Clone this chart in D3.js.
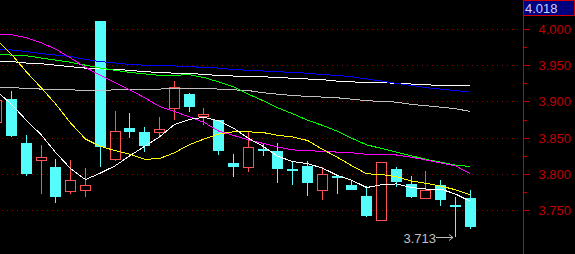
<!DOCTYPE html>
<html>
<head>
<meta charset="utf-8">
<title>K线</title>
<style>
body { margin: 0; background: #000; overflow: hidden; }
.grid line { stroke: #990000; stroke-width: 1; stroke-dasharray: 1,4; shape-rendering: crispEdges; }
.yaxis text { fill: #c00000; font-family: "Liberation Sans", Arial, sans-serif; font-size: 13px; }
.yaxis line { stroke: #c00000; shape-rendering: crispEdges; }
.ma { fill: none; stroke-width: 1; shape-rendering: crispEdges; }
</style>
</head>
<body>
<div id="chart"></div>
<script src="https://d3js.org/d3.v7.min.js"></script>
<script>
// 日K数据（第0根只露出一点）
var opens  = [3.870,3.903,3.843,3.818,3.809,3.775,3.776,4.011,3.819,3.863,3.858,3.856,3.890,3.910,3.878,3.874,3.815,
              3.808,3.834,3.831,3.807,3.811,3.776,3.797,3.785,3.769,3.735,3.807,3.786,3.765,3.785,3.757,3.767];
var highs  = [3.905,3.914,3.854,3.840,3.820,3.819,3.808,4.011,3.887,3.884,3.865,3.878,3.928,3.912,3.891,3.875,3.827,
              3.859,3.842,3.842,3.818,3.818,3.809,3.798,3.791,3.783,3.816,3.809,3.797,3.804,3.791,3.768,3.778];
var lows   = [3.866,3.851,3.797,3.772,3.760,3.772,3.768,3.809,3.818,3.849,3.830,3.850,3.874,3.885,3.867,3.826,3.796,
              3.802,3.825,3.787,3.785,3.769,3.764,3.772,3.778,3.740,3.735,3.782,3.767,3.765,3.756,3.713,3.724];
var closes = [3.902,3.852,3.800,3.823,3.768,3.791,3.785,3.837,3.859,3.858,3.838,3.862,3.920,3.892,3.883,3.831,3.809,
              3.837,3.831,3.807,3.804,3.787,3.800,3.794,3.778,3.742,3.816,3.789,3.768,3.778,3.764,3.754,3.727];

// 均线
var ma5   = [3.914,3.896,3.874,3.854,3.829,3.807,3.792,3.801,3.811,3.825,3.838,3.851,3.868,3.875,3.878,3.873,3.863,
             3.849,3.838,3.824,3.817,3.814,3.808,3.798,3.791,3.781,3.785,3.786,3.781,3.779,3.779,3.772,3.762];
var ma10  = [3.985,3.965,3.941,3.919,3.896,3.870,3.848,3.838,3.832,3.827,3.820,3.821,3.829,3.840,3.848,3.855,3.858,
             3.858,3.857,3.853,3.851,3.846,3.834,3.823,3.811,3.800,3.799,3.796,3.790,3.787,3.783,3.778,3.771];
var ma20  = [3.993,3.992,3.988,3.981,3.972,3.960,3.947,3.936,3.926,3.916,3.905,3.893,3.886,3.879,3.871,3.859,3.853,
             3.847,3.842,3.837,3.833,3.832,3.831,3.830,3.829,3.827,3.827,3.826,3.823,3.819,3.815,3.811,3.800];
var ma30  = [3.965,3.964,3.963,3.960,3.957,3.954,3.950,3.946,3.943,3.940,3.938,3.936,3.936,3.937,3.933,3.927,3.920,
             3.910,3.901,3.891,3.883,3.874,3.867,3.859,3.849,3.840,3.835,3.830,3.825,3.820,3.816,3.812,3.810];
var ma60  = [3.972,3.971,3.969,3.966,3.964,3.962,3.958,3.955,3.953,3.951,3.950,3.950,3.949,3.948,3.947,3.946,3.944,
             3.943,3.942,3.941,3.940,3.939,3.937,3.936,3.934,3.931,3.928,3.925,3.922,3.919,3.917,3.915,3.913];
var ma120 = [3.956,3.955,3.953,3.952,3.950,3.948,3.946,3.945,3.944,3.943,3.941,3.940,3.939,3.939,3.937,3.936,3.935,
             3.935,3.934,3.933,3.932,3.931,3.930,3.928,3.927,3.926,3.926,3.925,3.924,3.923,3.922,3.922,3.922];
var ma250 = [3.919,3.919,3.918,3.917,3.916,3.916,3.915,3.915,3.916,3.916,3.916,3.917,3.918,3.918,3.918,3.917,3.916,
             3.915,3.912,3.910,3.908,3.907,3.906,3.905,3.903,3.901,3.900,3.899,3.896,3.894,3.892,3.890,3.886];

var majorTicks = [4.000, 3.950, 3.900, 3.850, 3.800, 3.750];
var minorTicks = [3.975, 3.925, 3.875, 3.825, 3.775];
var topLabel = "4.018";

var width = 575, height = 254;
var plotRight = 521, axisX = 523;

var svg = d3.select("#chart").append("svg")
    .attr("width", width)
    .attr("height", height)
    .style("background", "#000");

var x = d3.scaleLinear().domain([0, opens.length - 1]).range([-3.3, 470.3]);
var y = d3.scaleLinear().domain([3.75, 4.0]).range([210, 29]);

svg.append("clipPath").attr("id", "plot-clip")
    .append("rect").attr("x", 0).attr("y", 0).attr("width", plotRight).attr("height", height);

// 网格
svg.append("g").attr("class", "grid")
    .selectAll("line").data(majorTicks).enter().append("line")
    .attr("x1", 2).attr("x2", plotRight - 2)
    .attr("y1", function(d){ return Math.round(y(d)) + 0.5; })
    .attr("y2", function(d){ return Math.round(y(d)) + 0.5; });

var plot = svg.append("g").attr("clip-path", "url(#plot-clip)");

var candles = plot.selectAll(".candle").data(d3.range(opens.length)).enter()
    .append("g").attr("class", "candle");

var bodyW = 11;
function left(i){ return Math.round(x(i) - bodyW / 2); }

candles.each(function(i){
    var g = d3.select(this);
    var up = closes[i] >= opens[i];
    var top = Math.round(y(Math.max(opens[i], closes[i])));
    var bot = Math.round(y(Math.min(opens[i], closes[i])));
    var hi = Math.round(y(highs[i])), lo = Math.round(y(lows[i]));
    var cx = left(i) + 5.5;
    if (up) {
        var col = "#ff5454";
        if (hi < top) g.append("line").attr("x1", cx).attr("x2", cx).attr("y1", hi).attr("y2", top).attr("stroke", col);
        if (lo > bot) g.append("line").attr("x1", cx).attr("x2", cx).attr("y1", bot).attr("y2", lo).attr("stroke", col);
        g.append("rect")
            .attr("x", left(i) + 0.5).attr("y", top + 0.5)
            .attr("width", bodyW - 1).attr("height", Math.max(bot - top - 1, 1))
            .attr("fill", "none").attr("stroke", col)
            .attr("shape-rendering", "crispEdges");
    } else {
        var col2 = "#54fcfc";
        g.append("line").attr("x1", cx).attr("x2", cx).attr("y1", hi).attr("y2", lo)
            .attr("stroke", col2).attr("shape-rendering", "crispEdges");
        g.append("rect")
            .attr("x", left(i)).attr("y", top)
            .attr("width", bodyW).attr("height", Math.max(bot - top, 2))
            .attr("fill", col2)
            .attr("shape-rendering", "crispEdges");
    }
});

// 均线
var line = d3.line()
    .x(function(d, i){ return x(i); })
    .y(function(d){ return y(d); });

var maList = [
    { data: ma250, color: "#c0c0c0" },
    { data: ma120, color: "#ffffff" },
    { data: ma60,  color: "#0000ff" },
    { data: ma30,  color: "#00ff00" },
    { data: ma20,  color: "#ff00ff" },
    { data: ma10,  color: "#ffff00" },
    { data: ma5,   color: "#ffffff" }
];

plot.selectAll(".ma").data(maList).enter().append("path")
    .attr("class", "ma")
    .attr("stroke", function(d){ return d.color; })
    .attr("d", function(d){ return line(d.data); });

// 最低价标注
var mi = d3.minIndex(lows);
var ly = Math.round(y(lows[mi])) + 0.5;
var ax = left(mi) + 5;
var lowG = svg.append("g");
lowG.append("line").attr("x1", ax - 19).attr("x2", ax - 2).attr("y1", ly).attr("y2", ly).attr("stroke", "#c0c0c0");
lowG.append("path")
    .attr("d", "M" + (ax - 6) + "," + (ly - 3) + "L" + (ax - 2) + "," + ly + "L" + (ax - 6) + "," + (ly + 3))
    .attr("fill", "none").attr("stroke", "#c0c0c0");
lowG.append("text")
    .attr("x", ax - 19).attr("y", ly + 5)
    .attr("text-anchor", "end")
    .attr("fill", "#c0c0c0")
    .style("font-family", "Liberation Sans, Arial, sans-serif")
    .style("font-size", "13px")
    .text(d3.format(".3f")(lows[mi]));

// 右侧坐标轴
var yAxis = d3.axisRight(y)
    .tickValues(majorTicks)
    .tickSize(6)
    .tickPadding(9)
    .tickFormat(d3.format(".3f"));

var axG = svg.append("g").attr("class", "yaxis")
    .attr("transform", "translate(" + (axisX + 0.5) + ",0)")
    .call(yAxis);
axG.select(".domain").remove();
axG.selectAll(".tick").attr("transform", function(d){ return "translate(0," + (Math.round(y(d)) + 0.5) + ")"; });

var minorG = svg.append("g").attr("class", "yaxis")
    .attr("transform", "translate(" + (axisX + 0.5) + ",0)")
    .call(d3.axisRight(y).tickValues(minorTicks).tickSize(3).tickFormat(""));
minorG.select(".domain").remove();
minorG.selectAll(".tick").attr("transform", function(d){ return "translate(0," + (Math.round(y(d)) + 0.5) + ")"; });

svg.append("line")
    .attr("x1", axisX + 0.5).attr("x2", axisX + 0.5)
    .attr("y1", 0).attr("y2", height)
    .attr("stroke", "#d00000");

// 顶部价格框
svg.append("rect")
    .attr("x", axisX + 0.5).attr("y", 0.5)
    .attr("width", width - axisX - 1).attr("height", 15)
    .attr("fill", "#000080").attr("stroke", "#d00000");
svg.append("text")
    .attr("x", axisX + 2).attr("y", 13)
    .attr("fill", "#d0d0ff")
    .style("font-family", "Liberation Sans, Arial, sans-serif")
    .style("font-size", "13px")
    .text(topLabel);
</script>
</body>
</html>
